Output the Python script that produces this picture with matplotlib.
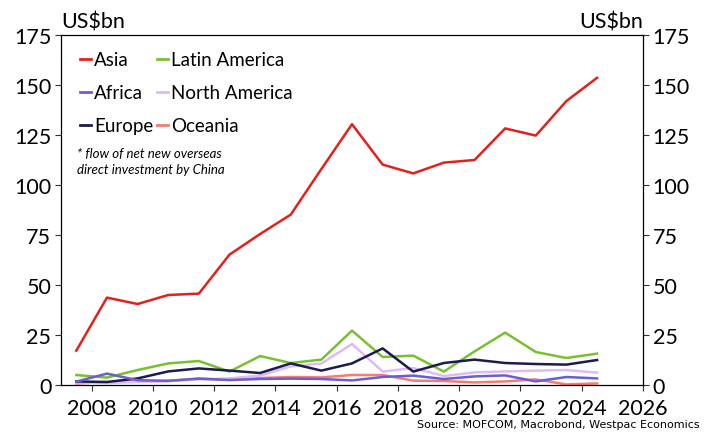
import numpy as np
import matplotlib.pyplot as plt

# annual flows, US$bn, plotted at mid-year
years = np.arange(2007, 2025) + 0.5
asia = [17.2, 43.7, 40.5, 45.0, 45.7, 65.2, 75.5, 85.2, 108.0, 130.4,
        110.2, 105.8, 111.2, 112.5, 128.3, 124.7, 142.0, 153.6]
latin_america = [5.0, 3.7, 7.5, 10.8, 12.0, 6.7, 14.5, 11.0, 12.7, 27.2,
                 14.0, 14.7, 6.7, 16.8, 26.2, 16.5, 13.5, 15.7]
africa = [1.7, 5.7, 2.4, 2.1, 3.2, 2.5, 3.0, 3.2, 3.0, 2.3,
          4.0, 4.7, 3.0, 4.3, 4.8, 1.8, 4.0, 3.3]
north_america = [1.3, 1.0, 1.5, 2.0, 2.8, 3.3, 4.7, 9.3, 10.8, 20.5,
                 6.7, 8.5, 4.5, 6.3, 6.8, 7.2, 7.5, 6.2]
europe = [1.8, 1.5, 3.3, 6.8, 8.3, 7.2, 6.0, 10.8, 7.2, 10.8,
          18.3, 6.7, 11.0, 12.7, 11.0, 10.5, 10.2, 12.5]
oceania = [0.8, 1.5, 1.8, 2.0, 3.2, 2.5, 3.5, 4.0, 3.8, 5.0,
           5.0, 2.2, 2.0, 1.3, 1.8, 2.8, 0.3, 0.8]

series = [
    ("Asia", asia, "#e3211c"),
    ("Africa", africa, "#6a5fd0"),
    ("Europe", europe, "#1c1a4e"),
    ("Latin America", latin_america, "#78c032"),
    ("North America", north_america, "#dcbcf2"),
    ("Oceania", oceania, "#f77b72"),
]

plt.rcParams['font.family'] = ['Lato', 'DejaVu Sans']

fig = plt.figure(figsize=(7.07, 4.39), dpi=100)
ax = fig.add_axes([0.0863, 0.1207, 0.8232, 0.7973])

# draw small series first so Asia sits on top
for name, vals, col in series[::-1]:
    ax.plot(years, vals, color=col, lw=1.8, label=name)

ax.set_xlim(2007, 2026)
ax.set_ylim(0, 175)
ax.set_xticks(np.arange(2008, 2027, 2))
ax.set_yticks(np.arange(0, 176, 25))
ax.tick_params(axis='both', labelsize=15.5, direction='out', length=4,
               width=0.8, color='#333333')
ax.tick_params(axis='x', pad=5)
ax.tick_params(axis='y', labelleft=True, labelright=True, left=True, right=True,
               pad=3)
for s in ax.spines.values():
    s.set_linewidth(0.9)

ax.text(0.0, 1.01, "US$bn", transform=ax.transAxes, fontsize=15.5,
        ha='left', va='bottom')
ax.text(1.0, 1.01, "US$bn", transform=ax.transAxes, fontsize=15.5,
        ha='right', va='bottom')

handles, labels = ax.get_legend_handles_labels()
order = [labels.index(n) for n, _, _ in series]
leg = ax.legend([handles[i] for i in order], [labels[i] for i in order],
                ncol=2, loc='upper left', bbox_to_anchor=(0.013, 0.985),
                frameon=False, fontsize=13.5, handlelength=0.6,
                handletextpad=0.15, columnspacing=0.2, labelspacing=0.85,
                borderaxespad=0.2)
for h in leg.get_lines():
    h.set_linewidth(2)

ax.text(0.028, 0.68, "* flow of net new overseas\ndirect investment by China",
        transform=ax.transAxes, fontsize=9.5, style='italic',
        ha='left', va='top', linespacing=1.4)

fig.text(0.99, 0.02, "Source: MOFCOM, Macrobond, Westpac Economics",
         fontsize=8, ha='right', va='bottom',
         family=['Liberation Sans Narrow', 'DejaVu Sans'])

fig.savefig("out.png", dpi=100)
